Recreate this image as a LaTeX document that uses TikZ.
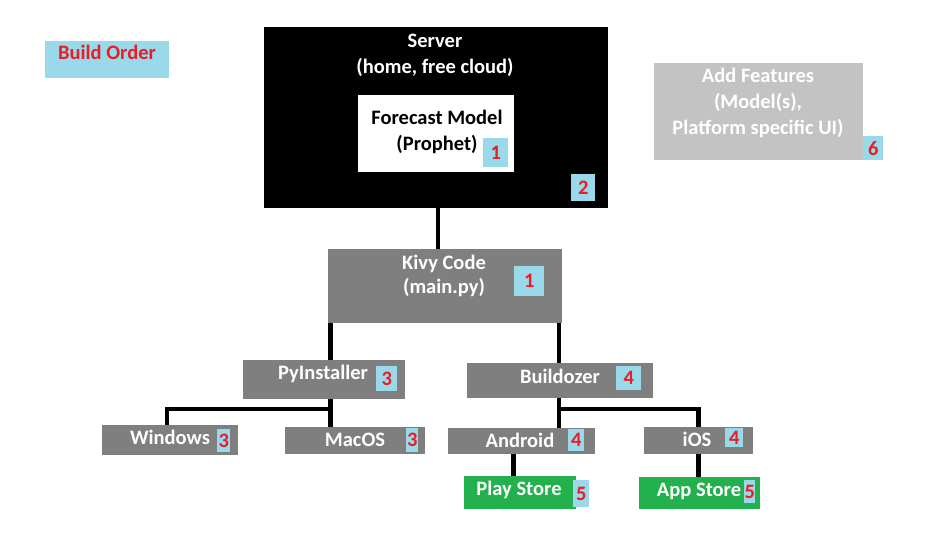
\documentclass[tikz,border=0pt]{standalone}
\usepackage{fontspec}
\setmainfont{Carlito}
\definecolor{badgeblue}{HTML}{99D9EA}
\definecolor{badgered}{HTML}{ED1C24}
\definecolor{boxgray}{HTML}{7F7F7F}
\definecolor{featgray}{HTML}{C3C3C3}
\definecolor{storegreen}{HTML}{22B14C}
\tikzset{
  box/.style={rectangle,inner sep=0pt,anchor=north west},
  txt/.style={anchor=base,inner sep=0pt,text=white,align=center,font=\fontsize{20.5}{26}\selectfont\bfseries},
  badge/.style={rectangle,inner sep=0pt,anchor=north west,fill=badgeblue,text=badgered,font=\fontsize{20.5}{24}\selectfont\bfseries},
  link/.style={line width=4.5pt}
}
\begin{document}
\begin{tikzpicture}[x=1pt,y=-1pt]
\useasboundingbox (0,0) rectangle (934,553);
%Build order label
\node[box,fill=badgeblue,minimum width=124pt,minimum height=37pt] (order) at (45,41) {};
\node[txt,text=badgered] (orderTxt) at (107,60) {Build Order};
%Server with forecast model
\node[box,fill=black,minimum width=344pt,minimum height=181pt] (server) at (264,27) {};
\node[txt] (serverTxt) at (435,73.5) {Server\\(home, free cloud)};
\node[box,fill=white,minimum width=156pt,minimum height=77pt] (model) at (358,95) {};
\node[txt,text=black] (modelTxt) at (437,150.7) {Forecast Model\\(Prophet)};
\node[badge,minimum width=25pt,minimum height=29pt] (modelNum) at (483,138) {1};
\node[badge,minimum width=24pt,minimum height=27pt] (serverNum) at (571,174) {2};
%Add features
\node[box,fill=featgray,minimum width=209pt,minimum height=97pt] (feat) at (654,63) {};
\node[txt] (featTxt) at (758,134.7) {Add Features\\(Model(s),\\Platform specific UI)};
\node[badge,minimum width=20pt,minimum height=24pt] (featNum) at (863,136) {6};
%Kivy code
\node[box,fill=boxgray,minimum width=234pt,minimum height=74pt] (kivy) at (328,249) {};
\node[txt] (kivyTxt) at (444,293.5) {Kivy Code\\[-2pt](main.py)};
\node[badge,minimum width=30pt,minimum height=30pt] (kivyNum) at (514,266) {1};
%Desktop branch
\node[box,fill=boxgray,minimum width=162pt,minimum height=39pt] (pyinst) at (243,360) {};
\node[txt] (pyinstTxt) at (323,379.3) {PyInstaller};
\node[badge,minimum width=21pt,minimum height=25pt] (pyinstNum) at (376,366) {3};
\node[box,fill=boxgray,minimum width=136pt,minimum height=30pt] (windows) at (102,425) {};
\node[txt] (windowsTxt) at (170,444.3) {Windows};
\node[badge,minimum width=13pt,minimum height=23pt] (windowsNum) at (217,429) {3};
\node[box,fill=boxgray,minimum width=140pt,minimum height=27pt] (macos) at (285,427) {};
\node[txt] (macosTxt) at (355,446) {MacOS};
\node[badge,minimum width=12pt,minimum height=24pt] (macosNum) at (406,428) {3};
%Mobile branch
\node[box,fill=boxgray,minimum width=186pt,minimum height=35pt] (buildozer) at (467,363) {};
\node[txt] (buildozerTxt) at (560,383.3) {Buildozer};
\node[badge,minimum width=25pt,minimum height=24pt] (buildozerNum) at (616,366) {4};
\node[box,fill=boxgray,minimum width=147pt,minimum height=26pt] (android) at (448,428) {};
\node[txt] (androidTxt) at (520,447.3) {Android};
\node[badge,minimum width=16pt,minimum height=22pt] (androidNum) at (568,429) {4};
\node[box,fill=boxgray,minimum width=109pt,minimum height=27pt] (ios) at (644,427) {};
\node[txt] (iosTxt) at (697,446.7) {iOS};
\node[badge,minimum width=18pt,minimum height=19pt] (iosNum) at (725,428) {4};
%Stores
\node[box,fill=storegreen,minimum width=112pt,minimum height=33pt] (play) at (464,476) {};
\node[txt] (playTxt) at (519,495.7) {Play Store};
\node[badge,minimum width=16pt,minimum height=27pt] (playNum) at (573,480) {5};
\node[box,fill=storegreen,minimum width=121pt,minimum height=32pt] (app) at (639,477) {};
\node[txt] (appTxt) at (699,496.7) {App Store};
\node[badge,minimum width=11pt,minimum height=23pt] (appNum) at (744,480) {5};
%Connectors
\coordinate (pyJoin) at (330.5,409);
\coordinate (bzJoin) at (559,409);
\draw[link] ([xshift=2pt]server.south) -- ([xshift=2pt]server.south |- kivy.north);
\draw[link] (kivy.south -| pyJoin) -- (pyinst.north -| pyJoin);
\draw[link] (pyinst.south -| pyJoin) -- (macos.north -| pyJoin);
\draw[link] ([xshift=2pt]pyJoin) -| ([xshift=-3pt]windows.north);
\draw[link] (kivy.south -| bzJoin) -- (buildozer.north -| bzJoin);
\draw[link] (buildozer.south -| bzJoin) -- (android.north -| bzJoin);
\draw[link] ([xshift=-2pt]bzJoin) -| (ios.north);
\draw[link] ([xshift=-8pt]android.south) -- ([xshift=-8pt]android.south |- play.north);
\draw[link] (ios.south) -- (ios.south |- app.north);
\end{tikzpicture}
\end{document}
